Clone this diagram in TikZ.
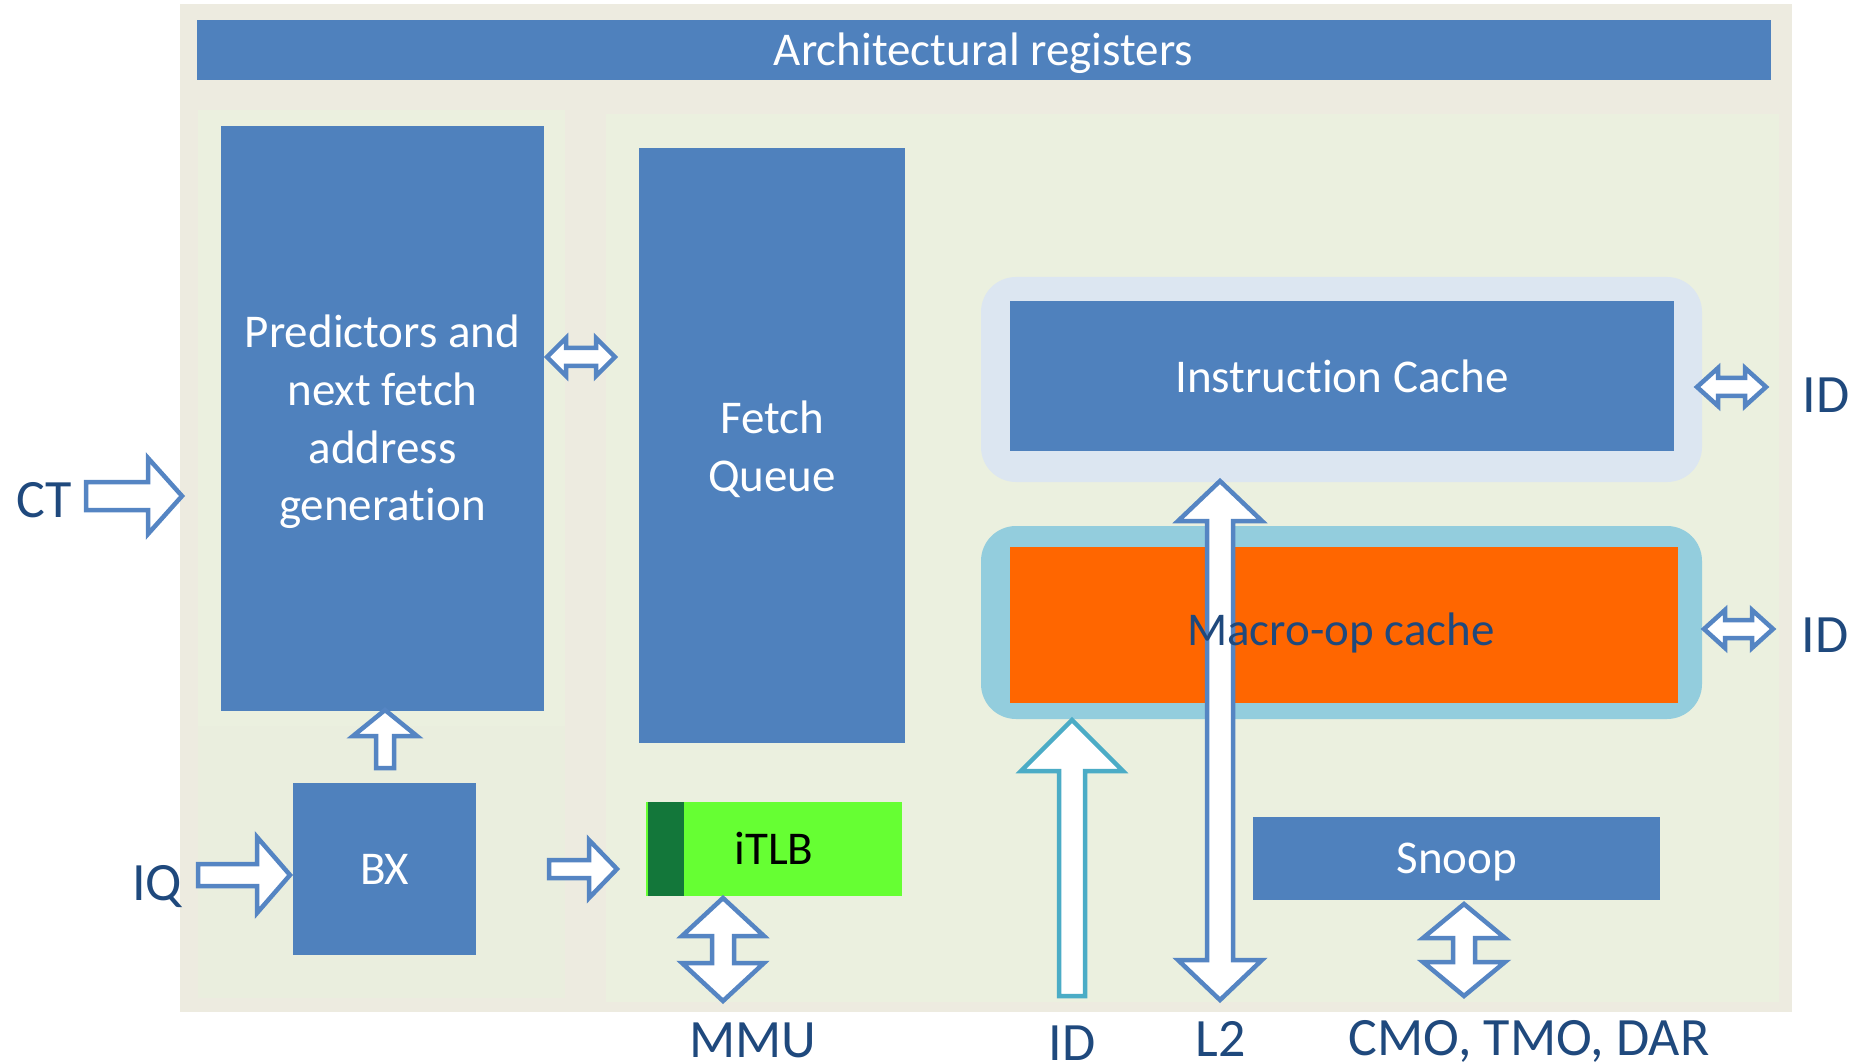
\documentclass[tikz,border=0pt]{standalone}
\usepackage{fontspec}
\setmainfont[Ligatures=NoCommon]{Carlito}
\definecolor{boxblue}{HTML}{4F81BD}
\definecolor{arrblue}{HTML}{5585C3}
\definecolor{panelbg}{HTML}{EDEBE0}
\definecolor{subbg}{HTML}{EBF0DF}
\definecolor{subbgb}{HTML}{EAEEDE}
\definecolor{labelblue}{HTML}{1F497D}
\definecolor{icring}{HTML}{DCE6F1}
\definecolor{mcring}{HTML}{93CDDD}
\definecolor{mcorange}{HTML}{FF6600}
\definecolor{tlbgreen}{HTML}{66FF33}
\definecolor{tlbdark}{HTML}{13773A}
\definecolor{idteal}{HTML}{4BACC6}
\tikzset{
  panel/.style={fill=#1, draw=none, inner sep=0pt, outer sep=0pt, anchor=north west},
  blk/.style={panel=boxblue},
  btxt/.style={text=white, font=\fontsize{47}{57.5}\selectfont, inner sep=0pt, anchor=base},
  lbl/.style={text=labelblue, font=\fontsize{54}{60}\selectfont, inner sep=0pt, anchor=base},
  pics/sarr/.style args={#1/#2/#3/#4/#5}{code={
    \draw[draw=#5, fill=white, line width=4.5pt, line join=miter]
      (0,-#2) -- ({#1-#4},-#2) -- ({#1-#4},-#3) -- (#1,0) -- ({#1-#4},#3)
      -- ({#1-#4},#2) -- (0,#2) -- cycle;}},
  pics/darr/.style args={#1/#2/#3/#4/#5}{code={
    \draw[draw=#5, fill=white, line width=4.5pt, line join=miter]
      (0,0) -- (#4,-#3) -- (#4,-#2) -- ({#1-#4},-#2) -- ({#1-#4},-#3) -- (#1,0)
      -- ({#1-#4},#3) -- ({#1-#4},#2) -- (#4,#2) -- (#4,#3) -- cycle;}},
}
\begin{document}
\begin{tikzpicture}[x=1pt,y=-1pt]
\useasboundingbox (0,0) rectangle (1858,1064);
% background panels
\node[panel=panelbg, minimum width=1612pt, minimum height=1008pt] (bg) at (180,4) {};
\node[panel=subbg, minimum width=367pt, minimum height=616pt] (leftup) at (198,110) {};
\node[panel=subbgb, minimum width=367pt, minimum height=272pt] (leftlow) at (198,726) {};
\node[panel=subbg, minimum width=1173pt, minimum height=888pt] (rightp) at (606,114) {};
% blocks
\node[blk, minimum width=1574pt, minimum height=60pt] (arch) at (197,20) {};
\node[blk, minimum width=323pt, minimum height=585pt] (pred) at (221,126) {};
\node[blk, minimum width=266pt, minimum height=595pt] (fq) at (639,148) {};
\node[blk, minimum width=183pt, minimum height=172pt] (bx) at (293,783) {};
\node[panel=tlbgreen, minimum width=256pt, minimum height=94pt] (itlb) at (646,802) {};
\node[panel=tlbdark, minimum width=36pt, minimum height=94pt] (itlbs) at (648,802) {};
\node[panel=icring, rounded corners=35pt, minimum width=721pt, minimum height=205pt] (icr) at (981,277) {};
\node[blk, minimum width=664pt, minimum height=150pt] (ic) at (1010,301) {};
\node[panel=mcring, rounded corners=35pt, minimum width=721pt, minimum height=193pt] (mcr) at (981,526) {};
\node[panel=mcorange, minimum width=668pt, minimum height=156pt] (mc) at (1010,547) {};
\node[blk, minimum width=407pt, minimum height=83pt] (snoop) at (1253,817) {};
% block texts
\node[btxt] (archt) at (983.5,65.5) {Architectural registers};
\node[btxt] (predt1) at (382.5,348) {Predictors and};
\node[btxt] (predt2) at (382.5,405.5) {next fetch};
\node[btxt] (predt3) at (382.5,463) {address};
\node[btxt] (predt4) at (382.5,520.5) {generation};
\node[btxt] (fqt1) at (772,433) {Fetch};
\node[btxt] (fqt2) at (772,491) {Queue};
\node[btxt] (bxt) at (384.5,884) {BX};
\node[btxt, text=black] (itlbt) at (774,864) {iTLB};
\node[btxt] (ict) at (1342,393) {Instruction Cache};
\node[btxt] (snoopt) at (1457,873) {Snoop};
% labels
\node[lbl] (ct) at (44,517) {CT};
\node[lbl] (iq) at (157,900) {IQ};
\node[lbl] (mmu) at (753,1057) {MMU};
\node[lbl] (idb) at (1072,1060) {ID};
\node[lbl] (l2) at (1221,1056) {L2};
\node[lbl] (cmo) at (1529,1055) {CMO, TMO, DAR};
\node[lbl] (idr1) at (1826,413) {ID};
\node[lbl] (idr2) at (1825,652) {ID};
% arrow anchors
\coordinate (pfA) at (547,357);
\coordinate (ctA) at (86,496);
\coordinate (iqA) at (198,875);
\coordinate (bxA) at (549,869);
\coordinate (upA) at (385,768);
\coordinate (mmuA) at (723,1001);
\coordinate (icA) at (1697,387);
\coordinate (mcA) at (1704,629);
\coordinate (l2A) at (1220,1000);
\coordinate (idA) at (1072,996);
\coordinate (snA) at (1464,996);
% block arrows
\pic at (pfA) {darr=68/9/19/19/arrblue};
\pic at (ctA) {sarr=96/14/38/34/arrblue};
\pic at (iqA) {sarr=92/11/38/33/arrblue};
\pic at (bxA) {sarr=68/9/29/28/arrblue};
\pic[rotate=90] at (upA) {sarr=58/9/32/26/arrblue};
\pic[rotate=90] at (mmuA) {darr=103/11/41/38/arrblue};
\pic at (icA) {darr=69/9/19/21/arrblue};
\pic at (mcA) {darr=69/9/19/21/arrblue};
\pic[rotate=90] at (l2A) {darr=519/13/42/40/arrblue};
\pic[rotate=90] at (idA) {sarr=276/13/51/51/idteal};
\pic[rotate=90] at (snA) {darr=92/11/41/34/arrblue};
% macro-op text on top
\node[btxt, text=labelblue] (mct) at (1341,645) {Macro-op cache};
\end{tikzpicture}
\end{document}
